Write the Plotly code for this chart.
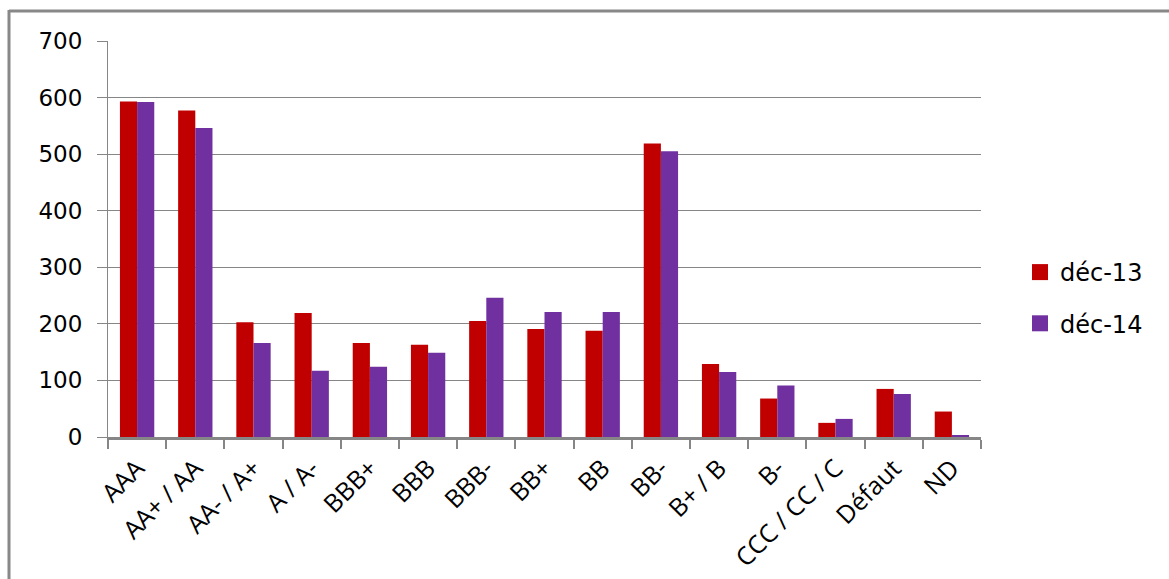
import plotly.graph_objects as go

categories = ["AAA", "AA+ / AA", "AA- / A+", "A / A-", "BBB+", "BBB", "BBB-", "BB+",
              "BB", "BB-", "B+ / B", "B-", "CCC / CC / C", "Défaut", "ND"]
dec13 = [593, 577, 203, 219, 166, 163, 205, 191, 188, 519, 129, 68, 25, 85, 45]
dec14 = [592, 546, 166, 117, 124, 149, 246, 221, 221, 505, 115, 91, 32, 76, 2]
series_names = ["déc-13", "déc-14"]
series_colors = ["#C00000", "#7030A0"]

W, H = 1169, 579
L, R, T, B = 108, 1169 - 981, 41, 579 - 437
pw, ph = W - L - R, H - T - B

def px(x):
    return (x - L) / pw

def py(y):
    return (H - B - y) / ph

fig = go.Figure()
for i, (name, vals) in enumerate(zip(series_names, [dec13, dec14])):
    fig.add_trace(go.Bar(x=categories, y=vals, name=name, showlegend=False,
                         marker=dict(color=series_colors[i], line=dict(width=0)),
                         legendgroup=name))
# legend entries with larger square swatches
for i, name in enumerate(series_names):
    fig.add_trace(go.Scatter(x=[None], y=[None], mode="markers", name=name,
                             legendgroup=name, showlegend=True, hoverinfo="skip",
                             marker=dict(symbol="square", size=17, color=series_colors[i])))

fig.update_layout(
    width=W, height=H,
    margin=dict(l=L, r=R, t=T, b=B, autoexpand=False),
    paper_bgcolor="white", plot_bgcolor="white",
    barmode="group", bargap=0.41, bargroupgap=0,
    font=dict(family="DejaVu Sans", color="black"),
    showlegend=True,
    legend=dict(x=px(1020), y=py(298), xanchor="left", yanchor="middle",
                font=dict(family="DejaVu Sans", size=24, color="black"),
                tracegroupgap=17, traceorder="grouped", itemwidth=30,
                bgcolor="rgba(0,0,0,0)"),
    xaxis=dict(showgrid=False, showline=True, linecolor="#868686", linewidth=2.5,
               ticks="outside", tickson="boundaries", ticklen=9, tickcolor="#868686",
               tickwidth=1.5, tickangle=-45, automargin=False, ticklabelstandoff=4,
               tickfont=dict(family="Open Sans", size=25, color="black")),
    yaxis=dict(range=[0, 700], dtick=100, showgrid=True, gridcolor="#868686", gridwidth=1,
               showline=True, linecolor="#868686", linewidth=1, automargin=False,
               ticks="outside", ticklen=10, tickcolor="#868686",
               ticklabelstandoff=10, zeroline=False,
               tickfont=dict(family="DejaVu Sans", size=23, color="black")),
    shapes=[
        dict(type="line", xref="paper", yref="paper", x0=px(9), x1=px(1169),
             y0=py(11), y1=py(11), line=dict(color="#888888", width=3)),
        dict(type="line", xref="paper", yref="paper", x0=px(9), x1=px(9),
             y0=py(10), y1=py(579), line=dict(color="#888888", width=3)),
    ],
)

fig.write_html("out.html")
